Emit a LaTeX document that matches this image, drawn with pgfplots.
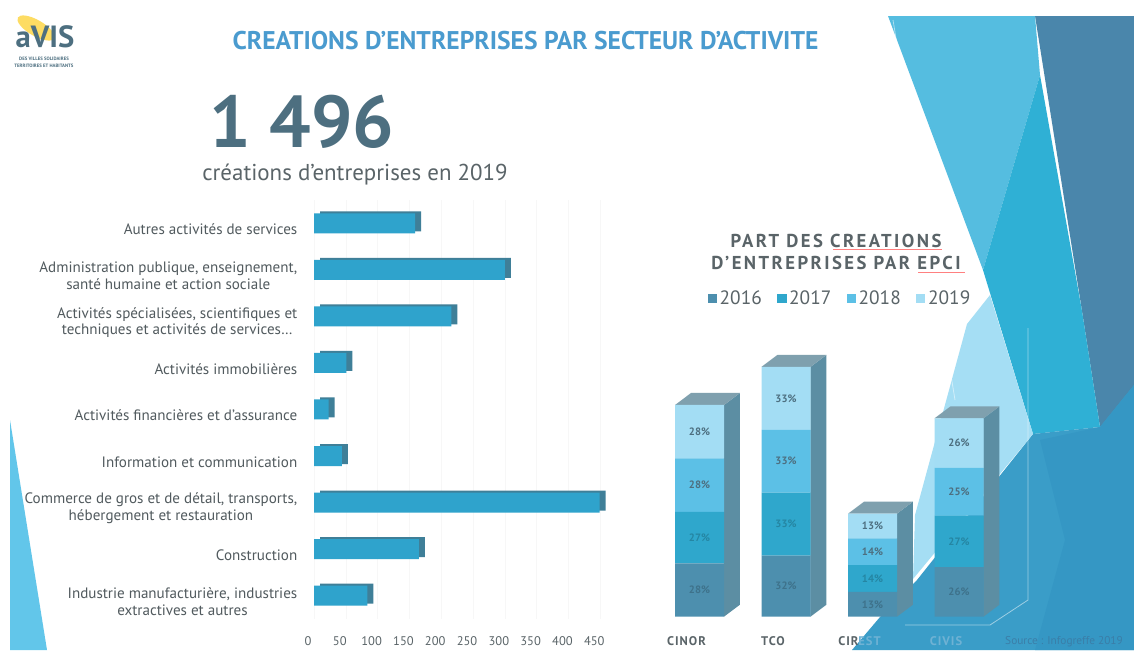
\documentclass[border=0pt]{standalone}
\usepackage{fontspec}
\setmainfont{PT Sans}
\usepackage{pgfplots}
\pgfplotsset{compat=1.18}
\definecolor{titleblue}{HTML}{4A9BCF}
\definecolor{bigc}{HTML}{4D6F80}
\definecolor{txt}{HTML}{5A6468}
\definecolor{barf}{HTML}{2FA3CC}
\definecolor{bars}{HTML}{3F7F98}
\definecolor{cA}{HTML}{4D8FAE}
\definecolor{cB}{HTML}{2FA7CC}
\definecolor{cC}{HTML}{5CC0E6}
\definecolor{cD}{HTML}{A3DDF4}
\definecolor{sidec}{HTML}{5C8EA3}
\definecolor{topc}{HTML}{7FA0AE}
\definecolor{bgdark}{HTML}{4A86AB}
\definecolor{bgcyan}{HTML}{2FB0D5}
\definecolor{bgmid}{HTML}{55BDE0}
\definecolor{bglight}{HTML}{A5DEF4}
\definecolor{bgbottom}{HTML}{3A9DC8}
\definecolor{bgbottom2}{HTML}{3597C4}
\definecolor{bgleft}{HTML}{62C6EA}
\definecolor{srcc}{HTML}{3A7EA8}
\definecolor{faint}{HTML}{6FB2D4}
\pgfplotsset{rightaxis/.style={
  at={(492.19pt,-462.5pt)},anchor=south west,scale only axis,
  width=259.5pt,height=200.25pt,
  xmin=-0.5,xmax=3.5,ymin=0,ymax=140,clip=false}}
\begin{document}
\begin{tikzpicture}
\useasboundingbox (0,0) rectangle (850.5pt,-487.5pt);
\clip (0,0) rectangle (850.5pt,-487.5pt);
\begin{scope}[x=0.75pt,y=-0.75pt]
\fill[white] (0,0) rectangle (1134,650);
% background
\fill[bgdark] (1035,16)--(1134,16)--(1134,400)--(1100,427)--(1082,311)--cycle;
\fill[bgmid] (888,16)--(1035,16)--(1040,75)--(983,270)--cycle;
\fill[bgcyan] (1040,75)--(1082,311)--(1100,427)--(1033,434)--(983,270)--cycle;
\fill[bgbottom] (852,650)--(880,617)--(917,580)--(1033,434)--(1100,427)--(1134,385)--(1134,650)--cycle;
\fill[bgbottom2] (1040,440)--(1100,427)--(1134,385)--(1134,650)--(1035,650)--(1065,540)--cycle;
\fill[bglight] (990,295)--(1033,434)--(913,579)--(915,515)--(967,324)--cycle;
\fill[bgleft] (10,420)--(47,650)--(10,650)--cycle;
\draw[white,opacity=.5,line width=.6pt] (1028,328)--(1028,600)--(990,625)--(905,625);
\draw[white,opacity=.5,line width=.6pt] (893,20)--(955,400);
% logo
\fill[yellow!60!orange!60!white,rotate around={-30:(36,28)}] (36,28) ellipse (21 and 8);
\node[text=bigc,font=\fontsize{23}{23}\selectfont\bfseries,inner sep=0pt] at (45,37) {aVIS};
\node[text=bigc,font=\fontsize{3.6}{5}\selectfont\bfseries,inner sep=0pt,align=center] at (44,62.5) {DES VILLES SOLIDAIRES\\ TERRITOIRES ET HABITANTS};
% titles
\node[text=titleblue,font=\fontsize{19.2}{21}\selectfont\bfseries,inner sep=0pt] at (525.5,41) {CREATIONS D’ENTREPRISES PAR SECTEUR D’ACTIVITE};
\node[text=bigc,font=\fontsize{55}{55}\selectfont\bfseries,inner sep=0pt] at (302,122) {1 496};
\node[text=txt,font=\fontsize{17.2}{19}\selectfont,inner sep=0pt] at (355,175) {créations d’entreprises en 2019};
\node[text=txt,font=\fontsize{14}{16}\selectfont\bfseries\addfontfeatures{LetterSpace=13},inner sep=0pt,align=center] at (836,252) {PART DES CREATIONS\\[0pt]D’ENTREPRISES PAR EPCI};
\draw[red!50!white,line width=.4pt] (833,249)--(942,249);
\draw[red!50!white,line width=.4pt] (918,272)--(965,272);
\node[text=srcc,font=\fontsize{8.5}{9}\selectfont,inner sep=0pt] at (1064,642) {Source : Infogreffe 2019};
\end{scope}
% left chart
\begin{axis}[
  at={(235.5pt,-464.06pt)},anchor=south west,scale only axis,
  width=229pt,height=313.9pt,
  xmin=0,xmax=480,ymin=-0.5,ymax=8.5,y dir=reverse,
  axis line style={draw=none},major tick length=0pt,
  xmajorgrids,grid style={black!3},
  xtick={0,50,100,150,200,250,300,350,400,450},
  ytick={0,1,2,3,4,5,6,7,8},
  yticklabels={
   {Autres activités de services},
   {Administration publique, enseignement,\\santé humaine et action sociale},
   {Activités spécialisées, scientifiques et\\techniques et activités de services\dots},
   {Activités immobilières},
   {Activités financières et d’assurance},
   {Information et communication},
   {Commerce de gros et de détail, transports,\\hébergement et restauration},
   {Construction},
   {Industrie manufacturière, industries\\extractives et autres}},
  yticklabel style={align=center,text=txt!90!black,font=\fontsize{11.3}{12.5}\selectfont,xshift=-9pt,yshift=-4.5pt},
  xticklabel style={text=txt,font=\fontsize{9.4}{11}\selectfont,xshift=-4.5pt,yshift=-9.5pt},
  /pgf/number format/assume math mode=true,
  xbar,bar width=15pt,bar shift=0pt,clip=false]
\addplot[draw=none,fill=bars,xshift=4.5pt,yshift=1.5pt] coordinates {(159,0)(300,1)(216,2)(51,3)(23,4)(44,5)(449,6)(165,7)(84,8)};
\addplot[draw=none,fill=barf] coordinates {(159,0)(300,1)(216,2)(51,3)(23,4)(44,5)(449,6)(165,7)(84,8)};
\end{axis}
% right chart: 3D faces
\begin{axis}[rightaxis,hide axis]
\addplot[fill=sidec,draw=none] coordinates {(0.283,0)(0.468,6.3)(0.468,117.3)(0.283,111)} --cycle;
\addplot[fill=topc,draw=none] coordinates {(-0.283,111)(-0.098,117.3)(0.468,117.3)(0.283,111)} --cycle;
\addplot[fill=sidec,draw=none] coordinates {(1.283,0)(1.468,6.3)(1.468,137.3)(1.283,131)} --cycle;
\addplot[fill=topc,draw=none] coordinates {(0.717,131)(0.902,137.3)(1.468,137.3)(1.283,131)} --cycle;
\addplot[fill=sidec,draw=none] coordinates {(2.283,0)(2.468,6.3)(2.468,60.3)(2.283,54)} --cycle;
\addplot[fill=topc,draw=none] coordinates {(1.717,54)(1.902,60.3)(2.468,60.3)(2.283,54)} --cycle;
\addplot[fill=sidec,draw=none] coordinates {(3.283,0)(3.468,6.3)(3.468,110.3)(3.283,104)} --cycle;
\addplot[fill=topc,draw=none] coordinates {(2.717,104)(2.902,110.3)(3.468,110.3)(3.283,104)} --cycle;
\end{axis}
% right chart: stacked bars
\begin{axis}[rightaxis,
  ybar stacked,bar width=36.75pt,
  axis line style={draw=none},major tick length=0pt,
  ytick=\empty,xtick={0,1,2,3},
  xticklabels={
   {\textcolor{txt}{CINOR}},
   {\textcolor{txt}{TCO}},
   {\textcolor{txt}{CIR}\textcolor{faint}{EST}},
   {\textcolor{faint}{CIVIS}}},
  xticklabel style={font=\fontsize{9.4}{10}\selectfont\bfseries\addfontfeatures{LetterSpace=8},xshift=-9.75pt,yshift=-11pt},
  legend columns=4,
  legend style={at={(0.532,1.19)},anchor=center,draw=none,fill=none,
    font=\fontsize{14.5}{16}\selectfont,text=txt,
    /tikz/every even column/.append style={column sep=9.5pt}},
  legend image code/.code={\fill[#1] (0pt,-3pt) rectangle (7pt,4pt);}]
\addplot[draw=none,fill=cA] coordinates {(0,28)(1,32)(2,13)(3,26)};
\addplot[draw=none,fill=cB] coordinates {(0,27)(1,33)(2,14)(3,27)};
\addplot[draw=none,fill=cC] coordinates {(0,28)(1,33)(2,14)(3,25)};
\addplot[draw=none,fill=cD] coordinates {(0,28)(1,33)(2,13)(3,26)};
\legend{2016,2017,2018,2019}
\end{axis}
% right chart: value labels
\begin{axis}[rightaxis,hide axis,
  nodes near coords={\pgfplotspointmeta\%},
  point meta=explicit symbolic,
  nodes near coords style={anchor=center,font=\fontsize{8}{9}\selectfont\bfseries}]
\addplot[draw=none,mark=none,every node near coord/.append style={text=cA!80!black}] table[meta=l] {
x y l
0 14 28
1 16 32
2 6.5 13
3 13 26
};
\addplot[draw=none,mark=none,every node near coord/.append style={text=cB!80!black}] table[meta=l] {
x y l
0 41.5 27
1 48.5 33
2 20 14
3 39.5 27
};
\addplot[draw=none,mark=none,every node near coord/.append style={text=bigc}] table[meta=l] {
x y l
0 69 28
1 81.5 33
2 34 14
3 65.5 25
};
\addplot[draw=none,mark=none,every node near coord/.append style={text=bigc}] table[meta=l] {
x y l
0 97 28
1 114.5 33
2 47.5 13
3 91 26
};
\end{axis}
\end{tikzpicture}
\end{document}
